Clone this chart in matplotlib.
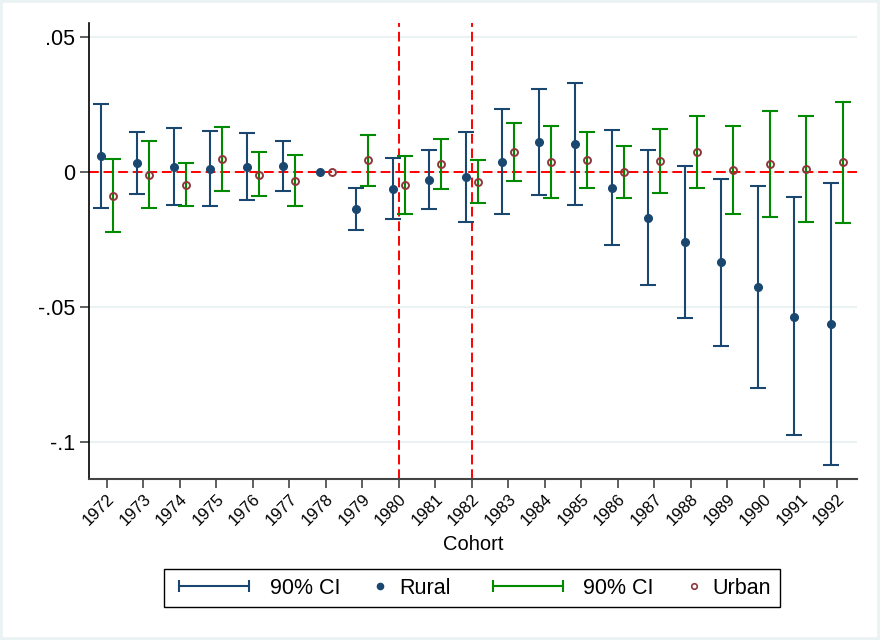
import matplotlib
matplotlib.use("Agg")
import matplotlib.pyplot as plt
import numpy as np
from matplotlib.lines import Line2D
from matplotlib.legend_handler import HandlerLine2D
from matplotlib.patches import Rectangle

plt.rcParams['font.family'] = ['Liberation Sans', 'DejaVu Sans']

cohorts = list(range(1972, 1993))

rural = [0.0058, 0.0032, 0.0020, 0.0012, 0.0020, 0.0021, 0.0, -0.0138, -0.0063, -0.0028,
         -0.0019, 0.0037, 0.0110, 0.0102, -0.0058, -0.0170, -0.0259, -0.0335, -0.0427,
         -0.0536, -0.0564]
rural_hi = [0.0252, 0.0148, 0.0163, 0.0152, 0.0146, 0.0115, 0.0, -0.0060, 0.0053, 0.0081,
            0.0149, 0.0233, 0.0309, 0.0331, 0.0157, 0.0080, 0.0023, -0.0025, -0.0051,
            -0.0094, -0.0042]
rural_lo = [-0.0134, -0.0083, -0.0122, -0.0125, -0.0104, -0.0070, 0.0, -0.0215, -0.0175,
            -0.0137, -0.0185, -0.0157, -0.0086, -0.0123, -0.0272, -0.0419, -0.0542,
            -0.0644, -0.0800, -0.0974, -0.1084]

urban = [-0.0088, -0.0010, -0.0047, 0.0047, -0.0010, -0.0033, 0.0, 0.0043, -0.0048, 0.0028,
         -0.0036, 0.0073, 0.0037, 0.0044, 0.0000, 0.0040, 0.0074, 0.0007, 0.0028,
         0.0011, 0.0036]
urban_hi = [0.0048, 0.0116, 0.0033, 0.0167, 0.0073, 0.0063, 0.0, 0.0137, 0.0060, 0.0121,
            0.0044, 0.0180, 0.0170, 0.0149, 0.0098, 0.0158, 0.0209, 0.0170, 0.0227,
            0.0209, 0.0260]
urban_lo = [-0.0222, -0.0134, -0.0125, -0.0072, -0.0090, -0.0127, 0.0, -0.0051, -0.0156,
            -0.0063, -0.0115, -0.0035, -0.0096, -0.0058, -0.0096, -0.0077, -0.0060,
            -0.0154, -0.0167, -0.0184, -0.0188]

yticks = [0.05, 0.0, -0.05, -0.1]
yticklabels = ['.05', '0', '-.05', '-.1']
vlines = [1980, 1982]

navy = '#1a476f'
green = '#008a00'
maroon = '#90353b'
grid_c = '#eaf2f3'

fig = plt.figure(figsize=(8.8, 6.4), dpi=100)
fig.patch.set_facecolor('white')
fig.patches.append(Rectangle((0, 0), 1, 1, transform=fig.transFigure, fill=False,
                             edgecolor=grid_c, linewidth=4, zorder=0))
ax = fig.add_axes([89/880, 1-479/640, (857-89)/880, (479-23)/640])

x = np.array(cohorts, dtype=float)
off = 0.165
r = np.array(rural); rh = np.array(rural_hi); rl = np.array(rural_lo)
u = np.array(urban); uh = np.array(urban_hi); ul = np.array(urban_lo)

for yv in yticks:
    ax.axhline(yv, color=grid_c, lw=1.5, zorder=0)
ax.axhline(0, color='#ff0000', lw=1.4, ls=(0, (5, 2.5)), zorder=1)
for v in vlines:
    ax.axvline(v, color='#ff0000', lw=1.4, ls=(0, (5, 2.5)), zorder=1)

mask = rh != rl
ax.errorbar(x[mask] - off, r[mask], yerr=[r[mask] - rl[mask], rh[mask] - r[mask]],
            fmt='none', ecolor=navy, elinewidth=1.5, capsize=5.5, capthick=1.5, zorder=2)
ax.plot(x - off, r, 'o', color=navy, ms=5.5, zorder=3)
mask = uh != ul
ax.errorbar(x[mask] + off, u[mask], yerr=[u[mask] - ul[mask], uh[mask] - u[mask]],
            fmt='none', ecolor=green, elinewidth=1.5, capsize=5.5, capthick=1.5, zorder=2)
ax.plot(x + off, u, 'o', mfc='none', mec=maroon, mew=1.4, ms=5, zorder=4)

ax.set_xlim(1971.51, 1992.55)
ax.set_ylim(-0.1137, 0.0552)
ax.set_yticks(yticks)
ax.set_yticklabels(yticklabels, fontsize=15.5)
ax.set_xticks(cohorts)
ax.set_xticklabels([str(c) for c in cohorts], rotation=45, ha='right',
                   rotation_mode='anchor', fontsize=12)
ax.tick_params(axis='both', direction='out', length=6.5, width=1.2, color='#444444')
ax.tick_params(axis='y', pad=3.5)
ax.tick_params(axis='x', pad=2)
ax.set_xlabel('Cohort', fontsize=14.5, labelpad=5)
for s in ['top', 'right']:
    ax.spines[s].set_visible(False)
ax.spines['left'].set_color('black')
ax.spines['bottom'].set_color('#444444')
ax.spines['left'].set_linewidth(1.2)
ax.spines['bottom'].set_linewidth(1.5)


class SmallHandler(HandlerLine2D):
    def legend_artist(self, legend, orig_handle, fontsize, handlebox):
        handlebox.width = fontsize * 0.47
        return super().legend_artist(legend, orig_handle, fontsize, handlebox)


h_rci = Line2D([], [], color=navy, lw=1.5, marker='|', ms=8, mew=1.5)
h_r = Line2D([], [], ls='none', marker='o', color=navy, ms=4.5)
h_uci = Line2D([], [], color=green, lw=1.5, marker='|', ms=8, mew=1.5)
h_u = Line2D([], [], ls='none', marker='o', mfc='none', mec=maroon, mew=1.2, ms=4)
leg = fig.legend([h_rci, h_r, h_uci, h_u], ['90% CI', 'Rural', '90% CI', 'Urban'],
                 loc='center', bbox_to_anchor=(472/880, 1-588/640), ncol=4,
                 fontsize=15.5, frameon=True, fancybox=False, edgecolor='black',
                 framealpha=1, handlelength=3.86, columnspacing=1.63, handletextpad=0.65,
                 borderpad=0.4, borderaxespad=0,
                 handler_map={h_rci: HandlerLine2D(numpoints=2), h_uci: HandlerLine2D(numpoints=2),
                              h_r: SmallHandler(numpoints=1), h_u: SmallHandler(numpoints=1)})
leg.get_frame().set_linewidth(1.0)

fig.savefig('out.png', dpi=100, facecolor='white')
